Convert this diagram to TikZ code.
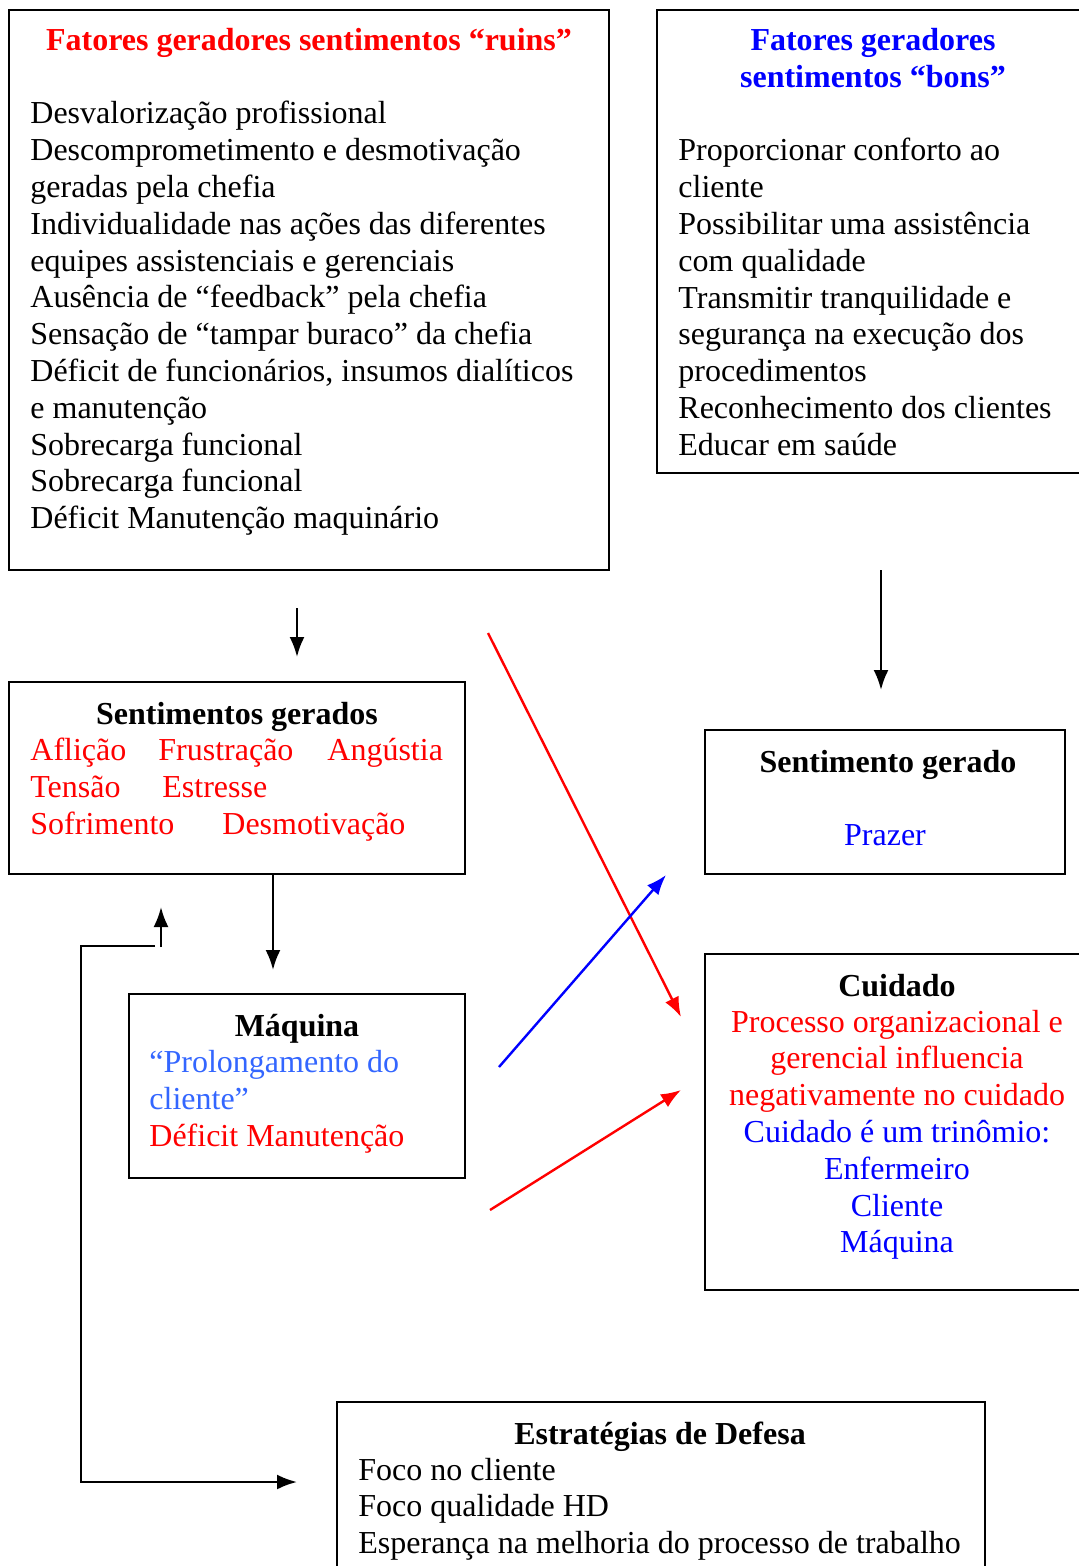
\documentclass[tikz,border=0pt]{standalone}
\usepackage{fontspec}
\setmainfont{Liberation Serif}
\usepackage{tikz}
\usetikzlibrary{arrows.meta,positioning,fit,calc}
\definecolor{ruim}{RGB}{255,0,0}
\definecolor{bom}{RGB}{0,0,255}
\definecolor{azulclaro}{RGB}{51,102,255}
\tikzset{
  frame/.style={draw,line width=1pt,inner sep=0pt,fit={#1}},
  txt/.style={inner sep=0pt,anchor=base west,font=\fontsize{16}{18.4}\selectfont},
  ctxt/.style={inner sep=0pt,anchor=base,font=\fontsize{16}{18.4}\selectfont},
  titulo/.style={ctxt,font=\fontsize{16}{18.4}\selectfont\bfseries},
  seta/.style={-{Latex[length=10pt,width=7.5pt]},line width=1.2pt}
}
\begin{document}
\begin{tikzpicture}[x=0.5pt,y=-0.5pt]
\useasboundingbox (0,0) rectangle (1078,1566);

% caixas
\node[frame={(9,10)(609,570)}] (ruins) {};
\node[frame={(657,10)(1100,473)}] (bons) {};
\node[frame={(9,682)(465,874)}] (sentimentos) {};
\node[frame={(705,730)(1065,874)}] (prazer) {};
\node[frame={(129,994)(465,1178)}] (maquina) {};
\node[frame={(705,954)(1100,1290)}] (cuidado) {};
\node[frame={(337,1402)(985,1600)}] (defesa) {};

% fatores ruins
\node[titulo,text=ruim] (tRuins) at (309,51) {Fatores geradores sentimentos “ruins”};
\foreach \t [count=\i from 0] in {Desvalorização profissional,
  Descomprometimento e desmotivação, geradas pela chefia,
  Individualidade nas ações das diferentes, equipes assistenciais e gerenciais,
  Ausência de “feedback” pela chefia, Sensação de “tampar buraco” da chefia,
  {Déficit de funcionários, insumos dialíticos}, e manutenção,
  Sobrecarga funcional, Sobrecarga funcional, Déficit Manutenção maquinário}
  \node[txt] (r\i) at (30,{124+\i*36.8}) {\t};

% fatores bons
\node[titulo,text=bom] (tBons1) at (873,51) {Fatores geradores};
\node[titulo,text=bom] (tBons2) at (873,88) {sentimentos “bons”};
\foreach \t [count=\i from 0] in {Proporcionar conforto ao, cliente,
  Possibilitar uma assistência, com qualidade, Transmitir tranquilidade e,
  segurança na execução dos, procedimentos, Reconhecimento dos clientes,
  Educar em saúde}
  \node[txt] (b\i) at (678,{161+\i*36.8}) {\t};

% sentimentos gerados
\node[titulo] (tSent) at (237,724) {Sentimentos gerados};
\node[txt,text=ruim] (s1) at (30,760) {Aflição};
\node[txt,text=ruim] (s2) at (158,760) {Frustração};
\node[txt,text=ruim] (s3) at (327,760) {Angústia};
\node[txt,text=ruim] (s4) at (30,797) {Tensão};
\node[txt,text=ruim] (s5) at (162,797) {Estresse};
\node[txt,text=ruim] (s6) at (30,834) {Sofrimento};
\node[txt,text=ruim] (s7) at (222,834) {Desmotivação};

% sentimento gerado
\node[titulo] (tPrazer) at (888,772) {Sentimento gerado};
\node[ctxt,text=bom] (p1) at (885,845) {Prazer};

% maquina
\node[titulo] (tMaq) at (297,1036) {Máquina};
\node[txt,text=azulclaro] (m1) at (149,1072) {“Prolongamento do};
\node[txt,text=azulclaro] (m2) at (149,1109) {cliente”};
\node[txt,text=ruim] (m3) at (149,1146) {Déficit Manutenção};

% cuidado
\node[titulo] (tCuid) at (897,996) {Cuidado};
\foreach \t/\c [count=\i from 0] in {Processo organizacional e/ruim,
  gerencial influencia/ruim, negativamente no cuidado/ruim,
  Cuidado é um trinômio:/bom, Enfermeiro/bom, Cliente/bom, Máquina/bom}
  \node[ctxt,text=\c] (c\i) at (897,{1032+\i*36.8}) {\t};

% estrategias
\node[titulo] (tDef) at (660,1444) {Estratégias de Defesa};
\foreach \t [count=\i from 0] in {Foco no cliente, Foco qualidade HD,
  Esperança na melhoria do processo de trabalho}
  \node[txt] (d\i) at (358,{1480+\i*36.8}) {\t};

% setas
\coordinate (a1) at (297,608);  \coordinate (a1e) at (297,657);
\coordinate (a2) at (881,570);  \coordinate (a2e) at (881,690);
\coordinate (a3) at (273,874);  \coordinate (a3e) at (273,970);
\coordinate (v1) at (488,633);  \coordinate (v1e) at (681,1017);
\coordinate (z1) at (499,1067); \coordinate (z1e) at (666,875);
\coordinate (v2) at (490,1210); \coordinate (v2e) at (681,1090);
\coordinate (f1) at (155,946);  \coordinate (f1e) at (297,1482);
\coordinate (u1) at (161,947);  \coordinate (u1e) at (161,907);
\draw[seta] (a1) -- (a1e);
\draw[seta] (a2) -- (a2e);
\draw[seta] (a3) -- (a3e);
\draw[seta,ruim] (v1) -- (v1e);
\draw[seta,bom] (z1) -- (z1e);
\draw[seta,ruim] (v2) -- (v2e);
\draw[seta] (f1) -| (81,1482) -- (f1e);
\draw[seta] (u1) -- (u1e);
\end{tikzpicture}
\end{document}
